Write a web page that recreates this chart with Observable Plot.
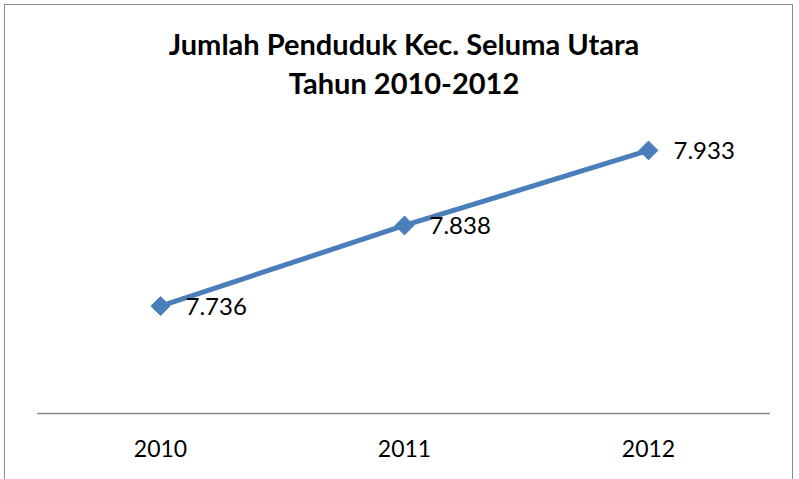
<!DOCTYPE html>
<html><head><meta charset="utf-8">
<script src="https://cdn.jsdelivr.net/npm/d3@7"></script>
<script src="https://cdn.jsdelivr.net/npm/@observablehq/plot@0.6"></script>
<style>
html,body{margin:0;padding:0;background:#fff;overflow:hidden}
#wrap{position:relative;width:799px;height:479px}
#border{position:absolute;left:4px;top:4px;width:789px;height:500px;border:1.5px solid #8c8c8c;box-sizing:border-box}
#chart{position:absolute;left:0;top:0}
</style></head>
<body><div id="wrap"><div id="border"></div><div id="chart"></div></div>
<script>
const years = ["2010", "2011", "2012"];
const population = [7736, 7838, 7933];
const titleLines = ["Jumlah Penduduk Kec. Seluma Utara", "Tahun 2010-2012"];

const data = years.map((y, i) => ({year: y, value: population[i]}));
const fmt = d3.formatLocale({decimal: ",", thousands: ".", grouping: [3], currency: ["Rp", ""]}).format(",d");
const font = "Lato, 'Open Sans', sans-serif";

const plot = Plot.plot({
  width: 799, height: 479,
  marginTop: 97, marginBottom: 66, marginLeft: 37, marginRight: 29,
  style: {fontFamily: font, background: "transparent"},
  x: {type: "band", domain: years, padding: 0, label: null},
  y: {domain: [7600, 8000], axis: null},
  marks: [
    Plot.axisX({tickSize: 0, tickPadding: 27, fontSize: 23, fill: "#000", label: null}),
    Plot.ruleY([7600], {stroke: "#8c8c8c", strokeWidth: 1.5}),
    Plot.line(data, {x: "year", y: "value", stroke: "#4a7ebb", strokeWidth: 5}),
    Plot.dot(data, {x: "year", y: "value", symbol: "diamond2", r: 8.5, fill: "#4a7ebb", stroke: "#4a7ebb", strokeWidth: 1}),
    Plot.text(data, {x: "year", y: "value", text: d => fmt(d.value), dx: 25, dy: 1, textAnchor: "start", fontSize: 24, fill: "#000"}),
    Plot.text([titleLines[0]], {frameAnchor: "top", dy: -63, fontSize: 29, fontWeight: "bold", fill: "#000", text: d => d}),
    Plot.text([titleLines[1]], {frameAnchor: "top", dy: -24, fontSize: 29, fontWeight: "bold", fill: "#000", text: d => d})
  ]
});
document.getElementById("chart").appendChild(plot);
</script></body></html>
